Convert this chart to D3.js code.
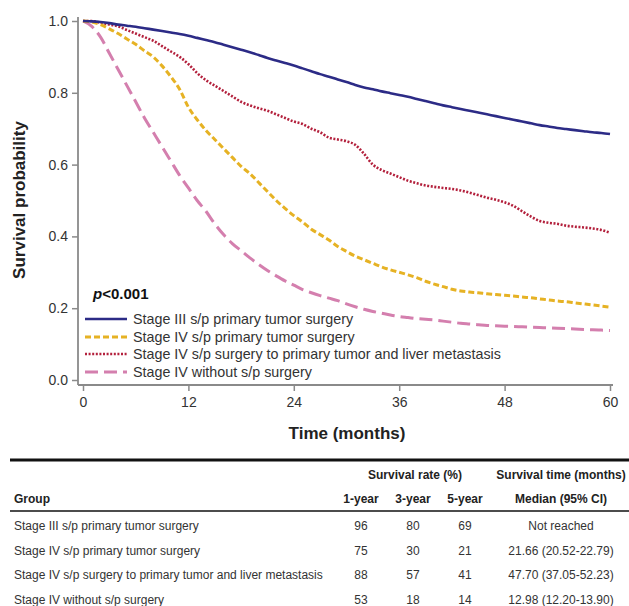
<!DOCTYPE html>
<html>
<head>
<meta charset="utf-8">
<script src="https://cdn.jsdelivr.net/npm/d3@7"></script>
<style>
  body { margin: 0; background: #fff; }
  svg { font-family: "Liberation Sans", Arial, Helvetica, sans-serif; }
</style>
</head>
<body>
<div id="chart"></div>
<script>
/**
 * Data
 */
const months = d3.range(0, 61);

const groups = [
  "Stage III s/p primary tumor surgery",
  "Stage IV s/p primary tumor surgery",
  "Stage IV s/p surgery to primary tumor and liver metastasis",
  "Stage IV without s/p surgery"
];

const stage3Surgery = [1.0, 0.999, 0.997, 0.994, 0.99, 0.987, 0.984, 0.98, 0.976, 0.972,
  0.968, 0.964, 0.959, 0.953, 0.947, 0.941, 0.934, 0.927, 0.92, 0.913,
  0.905, 0.897, 0.89, 0.883, 0.876, 0.868, 0.86, 0.852, 0.845, 0.837,
  0.83, 0.822, 0.815, 0.81, 0.804, 0.799, 0.794, 0.789, 0.783, 0.777,
  0.771, 0.765, 0.76, 0.755, 0.75, 0.745, 0.74, 0.735, 0.73, 0.725,
  0.72, 0.715, 0.71, 0.706, 0.702, 0.699, 0.696, 0.693, 0.69, 0.688, 0.685];

const stage4Primary = [1.0, 0.997, 0.99, 0.978, 0.965, 0.95, 0.935, 0.917, 0.9, 0.875,
  0.845, 0.81, 0.76, 0.725, 0.695, 0.67, 0.645, 0.62, 0.595, 0.575,
  0.55, 0.525, 0.5, 0.478, 0.458, 0.44, 0.42, 0.405, 0.39, 0.372,
  0.358, 0.345, 0.335, 0.325, 0.315, 0.307, 0.3, 0.293, 0.285, 0.275,
  0.267, 0.26, 0.253, 0.248, 0.245, 0.243, 0.24, 0.238, 0.236, 0.234,
  0.231, 0.229, 0.226, 0.223, 0.22, 0.218, 0.215, 0.212, 0.209, 0.206, 0.203];

const stage4PrimaryLiver = [1.0, 1.0, 0.995, 0.99, 0.985, 0.975, 0.965, 0.955, 0.945, 0.93,
  0.915, 0.9, 0.88, 0.855, 0.835, 0.82, 0.805, 0.79, 0.775, 0.765,
  0.757, 0.75, 0.74, 0.73, 0.72, 0.713, 0.7, 0.69, 0.675, 0.67,
  0.665, 0.655, 0.63, 0.6, 0.585, 0.575, 0.565, 0.555, 0.548, 0.542,
  0.538, 0.535, 0.532, 0.528, 0.522, 0.515, 0.508, 0.502, 0.495, 0.485,
  0.47, 0.455, 0.443, 0.438, 0.435, 0.43, 0.427, 0.425, 0.422, 0.418, 0.41];

const stage4NoSurgery = [1.0, 0.985, 0.955, 0.91, 0.865, 0.82, 0.775, 0.73, 0.69, 0.65,
  0.61, 0.57, 0.535, 0.5, 0.47, 0.435, 0.405, 0.38, 0.36, 0.34,
  0.322, 0.305, 0.29, 0.276, 0.264, 0.252, 0.243, 0.235, 0.228, 0.221,
  0.212, 0.204, 0.197, 0.191, 0.186, 0.181, 0.177, 0.174, 0.171, 0.169,
  0.167, 0.164, 0.161, 0.158, 0.156, 0.154, 0.152, 0.151, 0.15, 0.149,
  0.148, 0.147, 0.146, 0.145, 0.144, 0.143, 0.142, 0.141, 0.14, 0.139, 0.138];

const xTicks = [0, 12, 24, 36, 48, 60];
const yTicks = [0, 0.2, 0.4, 0.6, 0.8, 1.0];

// table values
const rate1Year = [96, 75, 88, 53];
const rate3Year = [80, 30, 57, 18];
const rate5Year = [69, 21, 41, 14];
const medianCI = ["Not reached", "21.66 (20.52-22.79)", "47.70 (37.05-52.23)", "12.98 (12.20-13.90)"];

/**
 * Basic Settings
 */
const canvasWidth = 629;
const canvasHeight = 606;

const svg = d3.select("#chart")
  .append("svg")
  .attr("width", canvasWidth)
  .attr("height", canvasHeight);

const xScale = d3.scaleLinear().domain([0, 60]).range([83, 610]);
const yScale = d3.scaleLinear().domain([0, 1]).range([380, 21]);

const axisColor = "#8a8a8a";
const labelColor = "#333";

/**
 * Axes
 */
const axisBottomY = 385;
const axisLeftX = 78;

const xAxis = svg.append("g")
  .attr("transform", `translate(0, ${axisBottomY})`)
  .call(d3.axisBottom(xScale).tickValues(xTicks).tickSize(6).tickPadding(6).tickSizeOuter(0));

const yAxis = svg.append("g")
  .attr("transform", `translate(${axisLeftX}, 0)`)
  .call(d3.axisLeft(yScale).tickValues(yTicks).tickFormat(d3.format(".1f")).tickSize(6).tickPadding(4).tickSizeOuter(0));

[xAxis, yAxis].forEach(function(g) {
  g.select(".domain").remove();
  g.selectAll(".tick line").attr("stroke", axisColor).attr("stroke-width", 1.5);
  g.selectAll(".tick text")
    .attr("fill", labelColor)
    .style("font-size", "14px")
    .style("font-family", "'Liberation Sans', Arial, sans-serif");
});

svg.append("line")
  .attr("x1", axisLeftX).attr("x2", axisLeftX)
  .attr("y1", 17).attr("y2", axisBottomY)
  .attr("stroke", axisColor).attr("stroke-width", 1.8);

svg.append("line")
  .attr("x1", axisLeftX).attr("x2", 613)
  .attr("y1", axisBottomY).attr("y2", axisBottomY)
  .attr("stroke", axisColor).attr("stroke-width", 1.8);

svg.append("text")
  .attr("transform", "translate(25, 200) rotate(-90)")
  .attr("text-anchor", "middle")
  .attr("fill", "#222")
  .style("font-size", "17px")
  .style("font-weight", "bold")
  .text("Survival probability");

svg.append("text")
  .attr("x", 347)
  .attr("y", 439)
  .attr("text-anchor", "middle")
  .attr("fill", "#222")
  .style("font-size", "17px")
  .style("font-weight", "bold")
  .text("Time (months)");

/**
 * Curves
 */
const seriesList = [
  { name: groups[0], values: stage3Surgery, color: "#2c2b86", width: 2.6, dash: null },
  { name: groups[1], values: stage4Primary, color: "#e6b224", width: 3, dash: "6,3" },
  { name: groups[2], values: stage4PrimaryLiver, color: "#b3203c", width: 2.6, dash: "2,1.6" },
  { name: groups[3], values: stage4NoSurgery, color: "#d47fae", width: 3, dash: "13,6" }
];

const line = d3.line()
  .x(function(d, i) { return xScale(months[i]); })
  .y(function(d) { return yScale(d); })
  .curve(d3.curveMonotoneX);

svg.selectAll(".km-curve")
  .data(seriesList.slice().reverse())
  .enter()
  .append("path")
  .attr("class", "km-curve")
  .attr("d", function(d) { return line(d.values); })
  .attr("fill", "none")
  .attr("stroke", function(d) { return d.color; })
  .attr("stroke-width", function(d) { return d.width; })
  .attr("stroke-dasharray", function(d) { return d.dash; });

/**
 * Legend
 */
const pText = svg.append("text")
  .attr("x", 93)
  .attr("y", 299)
  .attr("fill", "#111")
  .style("font-size", "15px")
  .style("font-weight", "bold");
pText.append("tspan").style("font-style", "italic").text("p");
pText.append("tspan").text("<0.001");

const legendRows = [319, 337, 354, 372];

const legend = svg.selectAll(".legend-item")
  .data(seriesList)
  .enter()
  .append("g")
  .attr("class", "legend-item")
  .attr("transform", function(d, i) { return `translate(0, ${legendRows[i]})`; });

legend.append("line")
  .attr("x1", 85).attr("x2", 127)
  .attr("y1", 0).attr("y2", 0)
  .attr("stroke", function(d) { return d.color; })
  .attr("stroke-width", function(d) { return d.width; })
  .attr("stroke-dasharray", function(d) { return d.dash; });

legend.append("text")
  .attr("x", 133)
  .attr("y", 5)
  .attr("fill", labelColor)
  .style("font-size", "14.3px")
  .text(function(d) { return d.name; });

/**
 * Table
 */
const tableFont = "12px";
const colX = { group: 14, y1: 361, y3: 413, y5: 465, median: 561 };

svg.append("line")
  .attr("x1", 10).attr("x2", canvasWidth)
  .attr("y1", 460).attr("y2", 460)
  .attr("stroke", "#111").attr("stroke-width", 3);

svg.append("line")
  .attr("x1", 10).attr("x2", canvasWidth)
  .attr("y1", 511).attr("y2", 511)
  .attr("stroke", "#111").attr("stroke-width", 1.5);

const headerTop = [
  { x: 415, label: "Survival rate (%)" },
  { x: colX.median, label: "Survival time (months)" }
];
const headerBottom = [
  { x: colX.group, label: "Group", anchor: "start" },
  { x: colX.y1, label: "1-year", anchor: "middle" },
  { x: colX.y3, label: "3-year", anchor: "middle" },
  { x: colX.y5, label: "5-year", anchor: "middle" },
  { x: colX.median, label: "Median (95% CI)", anchor: "middle" }
];

svg.selectAll(".head-top")
  .data(headerTop)
  .enter()
  .append("text")
  .attr("x", function(d) { return d.x; })
  .attr("y", 479)
  .attr("text-anchor", "middle")
  .attr("fill", "#222")
  .style("font-size", tableFont)
  .style("font-weight", "bold")
  .text(function(d) { return d.label; });

svg.selectAll(".head-bottom")
  .data(headerBottom)
  .enter()
  .append("text")
  .attr("x", function(d) { return d.x; })
  .attr("y", 503)
  .attr("text-anchor", function(d) { return d.anchor; })
  .attr("fill", "#222")
  .style("font-size", tableFont)
  .style("font-weight", "bold")
  .text(function(d) { return d.label; });

const rowY = d3.scalePoint().domain(groups).range([530, 604]);

const rows = svg.selectAll(".table-row")
  .data(groups)
  .enter()
  .append("g")
  .attr("class", "table-row")
  .attr("transform", function(d) { return `translate(0, ${rowY(d)})`; })
  .style("font-size", tableFont)
  .attr("fill", labelColor);

rows.append("text").attr("x", colX.group).text(function(d) { return d; });
rows.append("text").attr("x", colX.y1).attr("text-anchor", "middle").text(function(d, i) { return rate1Year[i]; });
rows.append("text").attr("x", colX.y3).attr("text-anchor", "middle").text(function(d, i) { return rate3Year[i]; });
rows.append("text").attr("x", colX.y5).attr("text-anchor", "middle").text(function(d, i) { return rate5Year[i]; });
rows.append("text").attr("x", colX.median).attr("text-anchor", "middle").text(function(d, i) { return medianCI[i]; });
</script>
</body>
</html>
